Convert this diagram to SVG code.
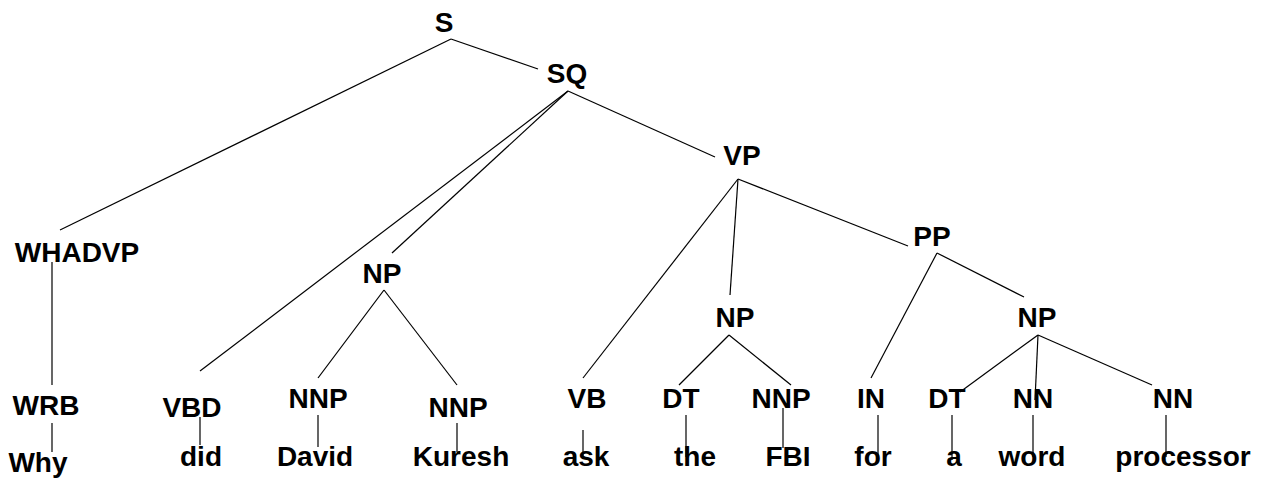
<svg xmlns="http://www.w3.org/2000/svg" width="1263" height="482" viewBox="0 0 1263 482">
<style>
text{font-family:"Liberation Sans",Arial,sans-serif;font-weight:bold;font-size:28px;fill:#000;text-anchor:middle}
line{stroke:#000;stroke-width:1.2}
</style>
<rect width="1263" height="482" fill="#fff"/>
<g id="edges">
<line x1="451" y1="39" x2="538" y2="69"/>
<line x1="451" y1="39" x2="60" y2="230"/>
<line x1="568" y1="91" x2="715" y2="157"/>
<line x1="568" y1="91" x2="200" y2="371"/>
<line x1="568" y1="91" x2="392" y2="253"/>
<line x1="384" y1="290" x2="318" y2="378"/>
<line x1="384" y1="290" x2="457" y2="385"/>
<line x1="738" y1="179" x2="583" y2="378"/>
<line x1="738" y1="179" x2="730" y2="295"/>
<line x1="738" y1="179" x2="908" y2="246"/>
<line x1="937" y1="253" x2="871" y2="378"/>
<line x1="937" y1="253" x2="1024" y2="297"/>
<line x1="729" y1="335" x2="679" y2="385"/>
<line x1="729" y1="335" x2="791" y2="385"/>
<line x1="1038" y1="335" x2="960" y2="392"/>
<line x1="1038" y1="335" x2="1035" y2="400"/>
<line x1="1038" y1="335" x2="1152" y2="385"/>
<line x1="52" y1="262" x2="52" y2="385"/>
<line x1="52" y1="423" x2="52" y2="452"/>
<line x1="200" y1="417" x2="200" y2="445"/>
<line x1="318" y1="415" x2="318" y2="447"/>
<line x1="457" y1="423" x2="457" y2="452"/>
<line x1="583" y1="430" x2="583" y2="457"/>
<line x1="686" y1="415" x2="686" y2="457"/>
<line x1="783" y1="408" x2="783" y2="448"/>
<line x1="878" y1="415" x2="878" y2="457"/>
<line x1="952" y1="415" x2="952" y2="460"/>
<line x1="1033" y1="415" x2="1033" y2="457"/>
<line x1="1166" y1="415" x2="1166" y2="457"/>
</g>
<g id="n-S"><text x="444" y="32">S</text></g>
<g id="n-SQ"><text x="567" y="83">SQ</text></g>
<g id="n-VP"><text x="742" y="165">VP</text></g>
<g id="n-PP"><text x="932" y="246">PP</text></g>
<g id="n-WHADVP"><text x="77" y="262">WHADVP</text></g>
<g id="n-NP1"><text x="382" y="283">NP</text></g>
<g id="n-NP2"><text x="735" y="327">NP</text></g>
<g id="n-NP3"><text x="1037" y="327">NP</text></g>
<g id="n-WRB"><text x="46" y="415">WRB</text></g>
<g id="n-VBD"><text x="192" y="417">VBD</text></g>
<g id="n-NNP1"><text x="318" y="408">NNP</text></g>
<g id="n-NNP2"><text x="458" y="417">NNP</text></g>
<g id="n-VB"><text x="587" y="408">VB</text></g>
<g id="n-DT1"><text x="681" y="408">DT</text></g>
<g id="n-NNP3"><text x="781" y="408">NNP</text></g>
<g id="n-IN"><text x="871" y="408">IN</text></g>
<g id="n-DT2"><text x="947" y="408">DT</text></g>
<g id="n-NN1"><text x="1033" y="408">NN</text></g>
<g id="n-NN2"><text x="1173" y="408">NN</text></g>
<g id="w-Why"><text x="38" y="472">Why</text></g>
<g id="w-did"><text x="201" y="466">did</text></g>
<g id="w-David"><text x="315" y="466">David</text></g>
<g id="w-Kuresh"><text x="461" y="466">Kuresh</text></g>
<g id="w-ask"><text x="586" y="466">ask</text></g>
<g id="w-the"><text x="695" y="466">the</text></g>
<g id="w-FBI"><text x="788" y="466">FBI</text></g>
<g id="w-for"><text x="873" y="466">for</text></g>
<g id="w-a"><text x="954" y="466">a</text></g>
<g id="w-word"><text x="1032" y="466">word</text></g>
<g id="w-processor"><text x="1183" y="466">processor</text></g>
</svg>
